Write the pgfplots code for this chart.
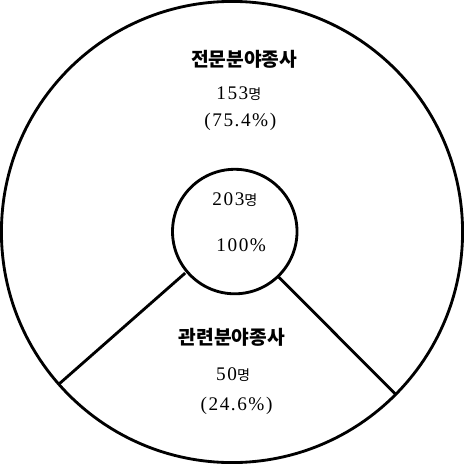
\documentclass[border=0pt]{standalone}
\usepackage{fontspec}
\usepackage{pgfplots}
\pgfplotsset{compat=1.18}
\setmainfont{Liberation Serif}
\newfontfamily\kr{Noto Sans CJK KR}
\newfontfamily\numf[LetterSpace=8]{Liberation Serif}
\newcommand{\ttl}[1]{{\kr\bfseries\fontsize{9.5}{11}\selectfont #1}}
\newcommand{\num}[1]{{\numf\fontsize{9.5}{11}\selectfont #1}}
\newcommand{\myeong}{{\kr\fontsize{7}{8}\selectfont 명}}

\begin{document}
\begin{tikzpicture}
\begin{axis}[
  hide axis, scale only axis, clip=false,
  x=4cm, y=4cm,
  xmin=-1.03, xmax=1.01, ymin=-1.01, ymax=1.04,
]
% outer and inner circles
\draw[line width=1.4pt] (axis cs:0,0) circle[radius=1];
\draw[line width=1.4pt] (axis cs:0.012,0.002) circle[radius=0.27];
% spokes separating 153 (75.4%) and 50 (24.6%)
\addplot[black, line width=1.4pt, no marks] coordinates {(-0.203,-0.178) (-0.751,-0.660)};
\addplot[black, line width=1.4pt, no marks] coordinates {(0.197,-0.190) (0.710,-0.704)};
% labels
\node at (axis cs:0.053,0.75)  {\ttl{전문분야종사}};
\node at (axis cs:0.030,0.60)  {\num{153}\myeong};
\node at (axis cs:0.036,0.476) {\num{(75.4\%)}};
\node at (axis cs:0.013,0.142) {\num{203}\myeong};
\node at (axis cs:0.040,-0.058) {\num{100\%}};
\node at (axis cs:0.000,-0.458) {\ttl{관련분야종사}};
\node at (axis cs:0.005,-0.62) {\num{50}\myeong};
\node at (axis cs:0.020,-0.755) {\num{(24.6\%)}};
\end{axis}
\end{tikzpicture}
\end{document}
